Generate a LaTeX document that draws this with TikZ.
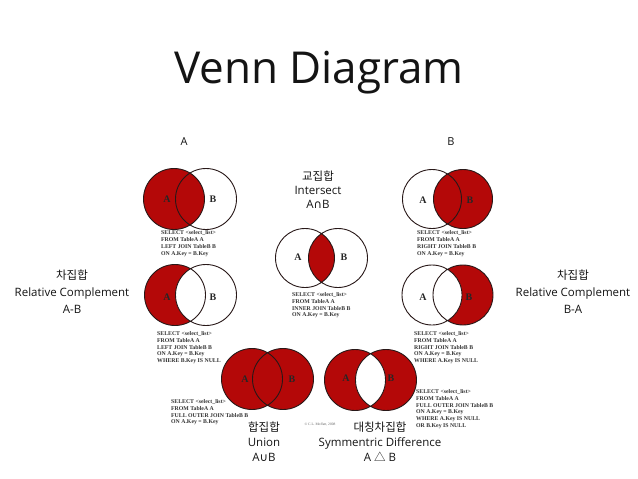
\documentclass[tikz,border=0pt]{standalone}
\usepackage{fontspec}
\setmainfont{Open Sans}
\newfontfamily\kofont{Noto Sans CJK KR}
\newfontfamily\symfont{DejaVu Sans}
\newfontfamily\sqlfamily{Liberation Serif}
\definecolor{vred}{RGB}{180,8,8}
\definecolor{ringcol}{RGB}{40,24,24}
\definecolor{txt}{RGB}{20,20,20}
\tikzset{
  ring/.style={draw=ringcol, line width=0.9pt},
  sql/.style={font=\sqlfamily\bfseries\fontsize{5.8}{6.9}\selectfont, align=left, anchor=north west, inner sep=0pt, text=black!80},
  inlab/.style={font=\sqlfamily\bfseries\fontsize{10}{12}\selectfont, inner sep=0pt, text=black!85},
  caplabel/.style={font=\fontsize{11.5}{14}\selectfont, align=center, text=txt, inner sep=0pt},
  setlab/.style={font=\fontsize{11}{12}\selectfont, text=txt, inner sep=0pt}
}
\begin{document}
\begin{tikzpicture}[x=1pt,y=-1pt]
\useasboundingbox[fill=white] (0,0) rectangle (638,479);

% title
\node[font=\fontsize{44}{50}\selectfont, text=txt, inner sep=0pt] (title) at (319,73) {Venn Diagram};
\node[setlab] (setA) at (184,142) {A};
\node[setlab] (setB) at (451,142) {B};

% 1: left join
\fill[vred] (174,199) circle[radius=30.5];
\draw[ring] (174,199) circle[radius=30.5] (206,199) circle[radius=30.5];
\node[inlab] (a1) at (167,199) {A};
\node[inlab] (b1) at (213,199) {B};
\node[sql] (s1) at (161,230.5) {SELECT <select\_list>\\FROM TableA A\\LEFT JOIN TableB B\\ON A.Key = B.Key};

% 2: right join
\fill[vred] (463,199) circle[radius=29.5];
\draw[ring] (432,199) circle[radius=29.5] (463,199) circle[radius=29.5];
\node[inlab] (a2) at (423,200) {A};
\node[inlab] (b2) at (470,200) {B};
\node[sql] (s2) at (417,230.5) {SELECT <select\_list>\\FROM TableA A\\RIGHT JOIN TableB B\\ON A.Key = B.Key};

% 3: inner join
\begin{scope}
\clip (305,258) circle[radius=29.5];
\fill[vred] (338,258) circle[radius=29.5];
\end{scope}
\draw[ring] (305,258) circle[radius=29.5] (338,258) circle[radius=29.5];
\node[inlab] (a3) at (298,257) {A};
\node[inlab] (b3) at (344,257) {B};
\node[sql] (s3) at (292,292) {SELECT <select\_list>\\FROM TableA A\\INNER JOIN TableB B\\ON A.Key = B.Key};
\node[caplabel, font=\fontsize{11.5}{14}\selectfont] (c3) at (318,190) {{\kofont 교집합}\\Intersect\\A{\symfont ∩}B};

% 4: A-B
\fill[vred] (175,295) circle[radius=30.5];
\fill[white] (206,295) circle[radius=30.5];
\draw[ring] (175,295) circle[radius=30.5] (206,295) circle[radius=30.5];
\node[inlab] (a4) at (167,297) {A};
\node[inlab] (b4) at (213,297) {B};
\node[sql] (s4) at (157,331) {SELECT <select\_list>\\FROM TableA A\\LEFT JOIN TableB B\\ON A.Key = B.Key\\WHERE B.Key IS NULL};
\node[caplabel, font=\fontsize{11.5}{17}\selectfont] (c4) at (72,292) {{\kofont 차집합}\\Relative Complement\\A-B};

% 5: B-A
\fill[vred] (463,295) circle[radius=30];
\fill[white] (432,295) circle[radius=30];
\draw[ring] (432,295) circle[radius=30] (463,295) circle[radius=30];
\node[inlab] (a5) at (423,297) {A};
\node[inlab] (b5) at (469,297) {B};
\node[sql] (s5) at (414,331) {SELECT <select\_list>\\FROM TableA A\\RIGHT JOIN TableB B\\ON A.Key = B.Key\\WHERE A.Key IS NULL};
\node[caplabel, font=\fontsize{11.5}{17}\selectfont] (c5) at (573,292) {{\kofont 차집합}\\Relative Complement\\B-A};

% 6: full outer join
\fill[vred] (252,379) circle[radius=30.5] (283,379) circle[radius=30.5];
\draw[ring] (252,379) circle[radius=30.5] (283,379) circle[radius=30.5];
\node[inlab] (a6) at (245,379) {A};
\node[inlab] (b6) at (292,379) {B};
\node[sql] (s6) at (171,399) {SELECT <select\_list>\\FROM TableA A\\FULL OUTER JOIN TableB B\\ON A.Key = B.Key};
\node[caplabel, font=\fontsize{11.5}{15}\selectfont] (c6) at (264,442) {{\kofont 합집합}\\Union\\A{\symfont ∪}B};

% 7: symmetric difference
\fill[vred] (355,380) circle[radius=30.5] (386,380) circle[radius=30.5];
\begin{scope}
\clip (355,380) circle[radius=30.5];
\fill[white] (386,380) circle[radius=30.5];
\end{scope}
\draw[ring] (355,380) circle[radius=30.5] (386,380) circle[radius=30.5];
\node[inlab] (a7) at (346,378) {A};
\node[inlab] (b7) at (391,378) {B};
\node[sql] (s7) at (416,389) {SELECT <select\_list>\\FROM TableA A\\FULL OUTER JOIN TableB B\\ON A.Key = B.Key\\WHERE A.Key IS NULL\\OR B.Key IS NULL};
\node[caplabel, font=\fontsize{11.5}{15}\selectfont] (c7) at (380,442) {{\kofont 대칭차집합}\\Symmentric Difference\\A {\kofont △} B};

% copyright
\node[font=\sqlfamily\fontsize{3.6}{4}\selectfont, text=black!60, inner sep=0pt] (copy) at (320,425) {© C.L. Moffatt, 2008};
\end{tikzpicture}
\end{document}
